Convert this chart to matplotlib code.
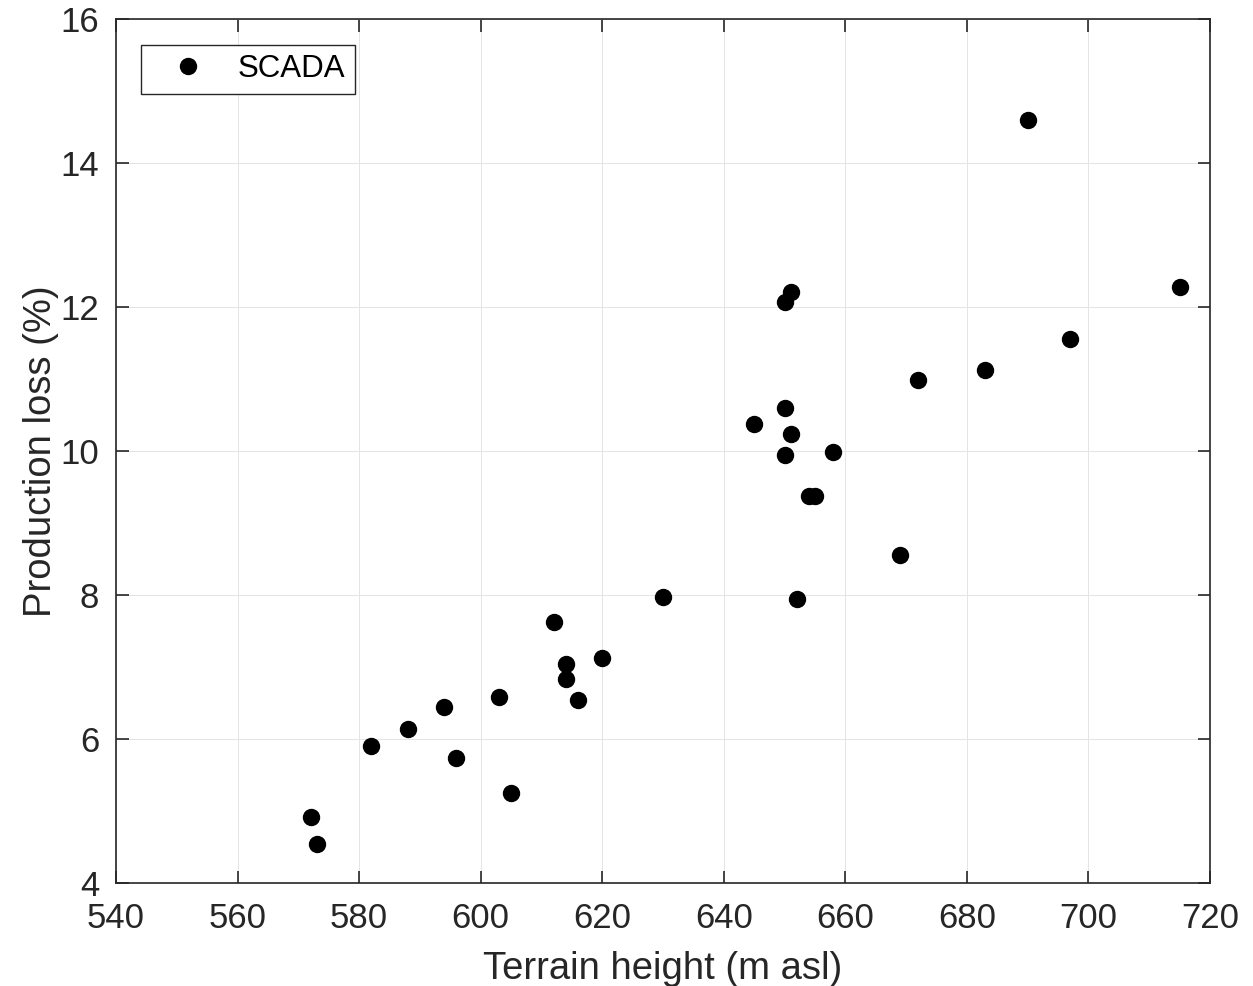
import matplotlib
matplotlib.use("Agg")
import matplotlib.pyplot as plt

# terrain height (m asl) vs production loss (%)
terrain_height = [572, 573, 582, 588, 594, 596, 603, 605, 612, 614, 614, 616, 620,
                  630, 645, 650, 650, 650, 651, 651, 652, 654, 655, 658, 669, 672,
                  683, 690, 697, 715]
production_loss = [4.92, 4.54, 5.90, 6.14, 6.44, 5.73, 6.58, 5.25, 7.62, 7.04, 6.83,
                   6.54, 7.13, 7.97, 10.38, 10.60, 9.94, 12.07, 12.21, 10.23, 7.95,
                   9.38, 9.38, 9.98, 8.56, 10.99, 11.13, 14.60, 11.56, 12.28]

x_ticks = [540, 560, 580, 600, 620, 640, 660, 680, 700, 720]
y_ticks = [4, 6, 8, 10, 12, 14, 16]

plt.rcParams["font.family"] = ["Liberation Sans", "DejaVu Sans"]
TXT = "#262626"

fig = plt.figure(figsize=(12.53, 9.86), dpi=100)
ax = fig.add_axes([0.0926, 0.1045, 0.8731, 0.8762])

ax.plot(terrain_height, production_loss, "o", color="black", markersize=11.5,
        label="SCADA")

ax.set_xlim(540, 720)
ax.set_ylim(4, 16)
ax.set_xticks(x_ticks)
ax.set_yticks(y_ticks)
ax.grid(True, color="#e4e4e4", linewidth=0.7)
ax.set_axisbelow(True)

ax.tick_params(direction="in", length=9, width=1.2, top=True, right=True,
               labelsize=25, labelcolor=TXT, color=TXT)
ax.tick_params(axis="x", pad=14)
ax.tick_params(axis="y", pad=12)
for s in ax.spines.values():
    s.set_linewidth(1.2)
    s.set_color(TXT)

ax.set_xlabel("Terrain height (m asl)", fontsize=27.5, color=TXT, labelpad=11)
ax.set_ylabel("Production loss (%)", fontsize=27.5, color=TXT, labelpad=1)

leg = ax.legend(loc="upper left", bbox_to_anchor=(0.0225, 0.97), fontsize=22.5,
                fancybox=False, framealpha=1, edgecolor=TXT, borderpad=0.3,
                handletextpad=0.35, handlelength=2.45, borderaxespad=0)
leg.get_frame().set_linewidth(1.0)

fig.savefig("out.png", dpi=100)
